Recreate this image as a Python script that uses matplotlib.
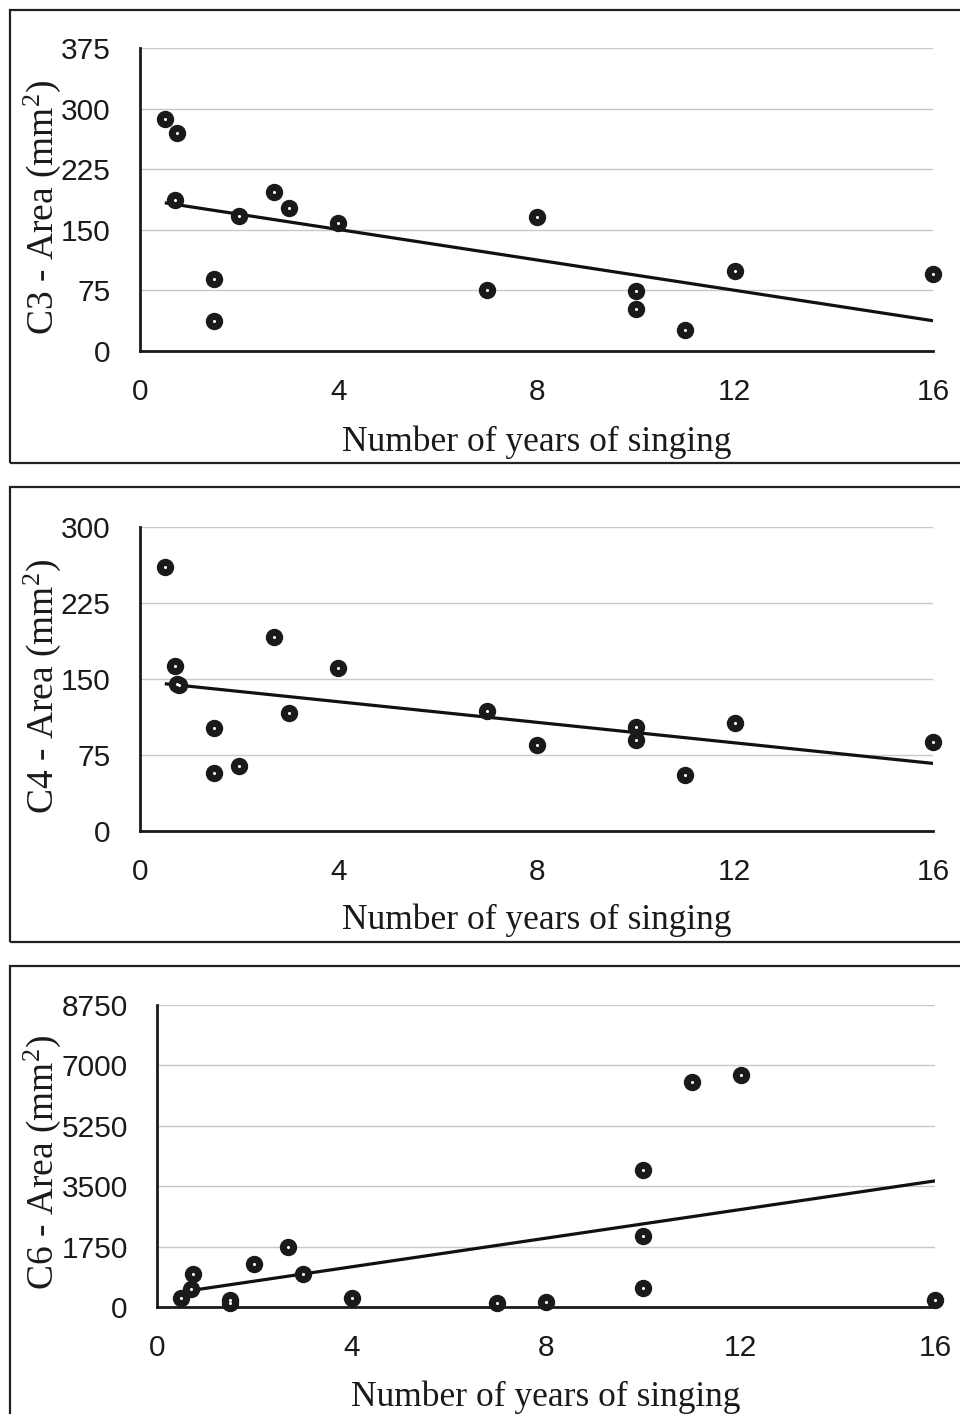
import numpy as np
import matplotlib
matplotlib.use("Agg")
import matplotlib.pyplot as plt
from matplotlib.patches import Rectangle

plt.rcParams["mathtext.fontset"] = "custom"
plt.rcParams["mathtext.rm"] = "Liberation Serif"
plt.rcParams["mathtext.it"] = "Liberation Serif:italic"
plt.rcParams["mathtext.bf"] = "Liberation Serif:bold"

# ---- data ----
c3_years = [0.5, 0.75, 0.7, 1.5, 1.5, 2, 2.7, 3, 4, 7, 8, 10, 10, 11, 12, 16]
c3_area = [287, 270, 187, 89, 37, 167, 197, 177, 158, 75, 166, 74, 52, 26, 99, 95]

c4_years = [0.5, 0.7, 0.75, 0.78, 1.5, 1.5, 2, 2.7, 3, 4, 7, 8, 10, 10, 11, 12, 16]
c4_area = [261, 163, 145, 144, 102, 57, 64, 191, 116, 161, 118, 85, 103, 90, 55, 107, 88]

c6_years = [0.5, 0.7, 0.75, 1.5, 1.5, 2, 2.7, 3, 4, 7, 8, 10, 10, 10, 11, 12, 16]
c6_area = [260, 520, 960, 200, 130, 1250, 1740, 960, 260, 115, 145, 3970, 2060, 550, 6520, 6720, 200]

x_ticks = [0, 4, 8, 12, 16]
c3_yticks = [0, 75, 150, 225, 300, 375]
c4_yticks = [0, 75, 150, 225, 300]
c6_yticks = [0, 1750, 3500, 5250, 7000, 8750]

xlabel = "Number of years of singing"
ylabels = ["C3 - Area (mm$^{\\mathrm{2}}$)", "C4 - Area (mm$^{\\mathrm{2}}$)", "C6 - Area (mm$^{\\mathrm{2}}$)"]

W, H = 960, 1414
fig = plt.figure(figsize=(W / 100, H / 100), dpi=100)

def fx(px):
    return px / W

def fy(py):
    return 1 - py / H

panels = [
    dict(x=c3_years, y=c3_area, yt=c3_yticks, ax=(140, 933, 48, 351), box=(10, 10, 463), xl=(537, 442), yl=(42, 207)),
    dict(x=c4_years, y=c4_area, yt=c4_yticks, ax=(140, 933, 527, 831), box=(10, 487, 942), xl=(537, 920), yl=(42, 686)),
    dict(x=c6_years, y=c6_area, yt=c6_yticks, ax=(157, 935, 1005, 1307), box=(10, 966, 1425), xl=(546, 1397), yl=(42, 1162)),
]

serif = ["Liberation Serif", "DejaVu Serif"]
sans = ["Liberation Sans", "DejaVu Sans"]

for i, p in enumerate(panels):
    l, r, t, b = p["ax"]
    ax = fig.add_axes([fx(l), fy(b), fx(r - l), (b - t) / H])
    bx0, bt, bb = p["box"]
    fig.patches.append(Rectangle((fx(bx0), fy(bb)), fx(970 - bx0), (bb - bt) / H,
                                 transform=fig.transFigure, fill=False,
                                 edgecolor="#222222", linewidth=1.6, zorder=0))
    xs = np.array(p["x"], dtype=float)
    ys = np.array(p["y"], dtype=float)
    m, c = np.polyfit(xs, ys, 1)
    xx = np.array([xs.min(), xs.max()])
    ax.plot(xx, m * xx + c, color="#111111", linewidth=2.3, zorder=3, solid_capstyle="butt")
    ax.plot(xs, ys, "o", color="#1a1a1a", markersize=11.5, zorder=4, clip_on=False)
    ax.plot(xs, ys, "o", color="white", markersize=2.2, markeredgewidth=0, zorder=5, clip_on=False)
    ax.set_xlim(0, 16)
    ax.set_ylim(p["yt"][0], p["yt"][-1])
    ax.set_xticks(x_ticks)
    ax.set_yticks(p["yt"])
    ax.set_xticklabels([str(v) for v in x_ticks], family=sans, fontsize=21.5)
    ax.set_yticklabels([str(v) for v in p["yt"]], family=sans, fontsize=21.5)
    ax.tick_params(axis="both", length=0, colors="#1a1a1a")
    ax.tick_params(axis="x", pad=19.5)
    ax.tick_params(axis="y", pad=21)
    ax.grid(axis="y", color="#c8c8c8", linewidth=1.0)
    ax.set_axisbelow(True)
    for s in ["top", "right"]:
        ax.spines[s].set_visible(False)
    for s in ["left", "bottom"]:
        ax.spines[s].set_linewidth(2.0)
        ax.spines[s].set_color("#1a1a1a")
    fig.text(fx(p["xl"][0]), fy(p["xl"][1]), xlabel, family=serif, fontsize=25.5,
             ha="center", va="center", color="#1a1a1a")
    fig.text(fx(p["yl"][0]), fy(p["yl"][1]), ylabels[i], family=serif, fontsize=27,
             ha="center", va="center", rotation=90, color="#1a1a1a")

fig.savefig("out.png", dpi=100)
